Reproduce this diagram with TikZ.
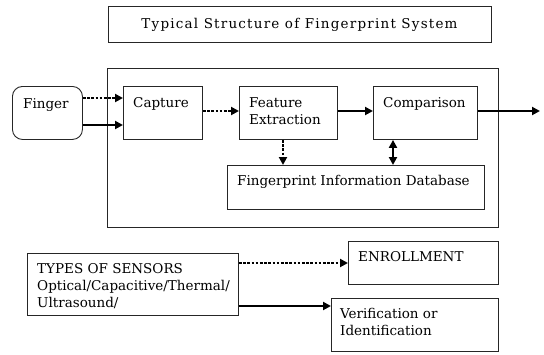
\documentclass[tikz,border=0pt]{standalone}
\usepackage{fontspec}
\setmainfont{DejaVu Serif}
\usetikzlibrary{arrows.meta}
\begin{document}
\begin{tikzpicture}[x=1pt,y=-1pt,
  box/.style={draw=black!85, line width=0.9pt, anchor=north west, inner sep=0pt},
  lbl/.style={anchor=north west, inner sep=0pt, align=left, font=\fontsize{13.5}{17}\selectfont},
  solidarrow/.style={line width=2.8pt, -{Triangle[length=8pt,width=8pt]}},
  dotarrow/.style={line width=2.8pt, dash pattern=on 2.6pt off 1.6pt, -{Triangle[length=8pt,width=8pt]}},
  dblarrow/.style={line width=2.8pt, {Triangle[length=8pt,width=8pt]}-{Triangle[length=8pt,width=8pt]}}]
\useasboundingbox (0,0) rectangle (544,354);

% title
\node[box, minimum width=383pt, minimum height=36pt] (title) at (108,6) {};
\node[anchor=base, inner sep=0pt, font=\fontsize{13.5}{17}\selectfont\addfontfeatures{LetterSpace=9}] (titletext) at (299.5,28) {Typical Structure of Fingerprint System};

% big frame
\node[box, minimum width=391pt, minimum height=159pt] (frame) at (107,68) {};

% finger
\node[box, rounded corners=10pt, minimum width=70pt, minimum height=53pt] (finger) at (12,86) {};
\node[lbl] (fingert) at (23,96.1) {\strut Finger};

% capture
\node[box, minimum width=79pt, minimum height=53pt] (cap) at (123,86) {};
\node[lbl] (capt) at (133,95.1) {\strut Capture};

% feature extraction
\node[box, minimum width=98pt, minimum height=53pt] (feat) at (239,86) {};
\node[lbl] (featt) at (249,95.1) {\strut Feature\\Extraction};

% comparison
\node[box, minimum width=104pt, minimum height=53pt] (cmp) at (373,86) {};
\node[lbl] (cmpt) at (383,95.1) {\strut Comparison};

% database
\node[box, minimum width=257pt, minimum height=44pt] (db) at (227,165) {};
\node[lbl] (dbt) at (237,173.1) {\strut Fingerprint Information Database};

% sensors
\node[box, minimum width=211pt, minimum height=62pt] (types) at (27,253) {};
\node[lbl] (typest) at (37,261.1) {\strut TYPES OF SENSORS\\Optical/Capacitive/Thermal/\\Ultrasound/};

% enrollment
\node[box, minimum width=150pt, minimum height=43pt] (enr) at (348,241) {};
\node[lbl] (enrt) at (358,249.1) {\strut ENROLLMENT};

% verification
\node[box, minimum width=167pt, minimum height=53pt] (ver) at (331,298) {};
\node[lbl] (vert) at (340,306.1) {\strut Verification or\\Identification};

\coordinate (out) at (540,111);

% connectors
\draw[dotarrow] (finger.east |- 0,98) -- (cap.west |- 0,98);
\draw[solidarrow] (finger.east |- 0,125) -- (cap.west |- 0,125);
\draw[dotarrow] (cap.east |- 0,111) -- (feat.west |- 0,111);
\draw[solidarrow] (feat.east |- 0,111) -- (cmp.west |- 0,111);
\draw[solidarrow] (cmp.east |- 0,111) -- (out);
\draw[dotarrow] (feat.south -| 283,0) -- (db.north -| 283,0);
\draw[dblarrow] (cmp.south -| 393,0) -- (db.north -| 393,0);
\draw[dotarrow] (types.east |- 0,263) -- (enr.west |- 0,263);
\draw[solidarrow] (types.east |- 0,306) -- (ver.west |- 0,306);
\end{tikzpicture}
\end{document}
